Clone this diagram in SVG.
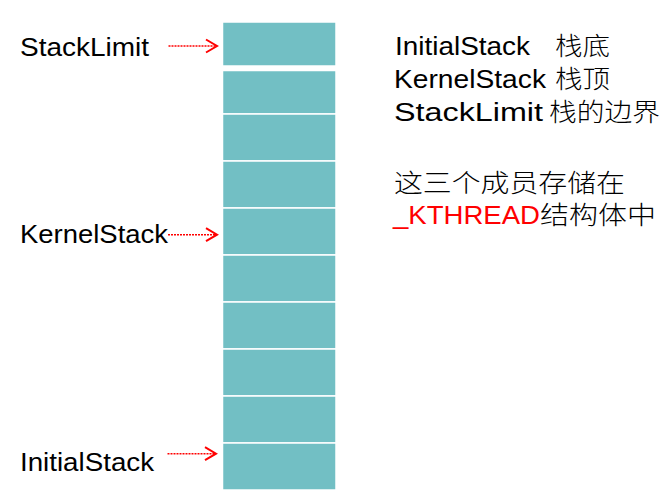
<svg xmlns="http://www.w3.org/2000/svg" width="663" height="497" viewBox="0 0 663 497">
<style>
.box{fill:#72BFC4;stroke:#FFFFFF;stroke-width:1.5}
.lat{font-family:"Liberation Sans",Arial,sans-serif;font-size:26.5px;fill:#000}
.cjk{font-family:"Liberation Sans","Noto Sans CJK SC",sans-serif;font-size:25px;font-weight:300;fill:#000}
.red{fill:#FF0000}
.ln{stroke:#FF0000;stroke-width:1.6;stroke-dasharray:2 1;fill:none}
.hd{stroke:#FF0000;stroke-width:2;fill:none;stroke-linejoin:miter}
</style>
<rect width="663" height="497" fill="#FFFFFF"/>
<g id="stack">
<rect id="slot1" class="box" x="222.5" y="22" width="113.5" height="44"/>
<rect id="slot2" class="box" x="222.5" y="70.5" width="113.5" height="43.5"/>
<rect id="slot3" class="box" x="222.5" y="114" width="113.5" height="47"/>
<rect id="slot4" class="box" x="222.5" y="161" width="113.5" height="47"/>
<rect id="slot5" class="box" x="222.5" y="208" width="113.5" height="47"/>
<rect id="slot6" class="box" x="222.5" y="255" width="113.5" height="47"/>
<rect id="slot7" class="box" x="222.5" y="302" width="113.5" height="47"/>
<rect id="slot8" class="box" x="222.5" y="349" width="113.5" height="47"/>
<rect id="slot9" class="box" x="222.5" y="396" width="113.5" height="47"/>
<rect id="slot10" class="box" x="222.5" y="443" width="113.5" height="47"/>
</g>
<g id="label-stacklimit"><text class="lat" x="20" y="56" textLength="129" lengthAdjust="spacingAndGlyphs">StackLimit</text></g>
<g id="label-kernelstack"><text class="lat" x="20" y="243" textLength="148" lengthAdjust="spacingAndGlyphs">KernelStack</text></g>
<g id="label-initialstack"><text class="lat" x="20" y="471" textLength="134" lengthAdjust="spacingAndGlyphs">InitialStack</text></g>
<g id="connectors">
<line class="ln" x1="168.5" y1="46" x2="216" y2="46"/>
<polyline class="hd" points="206,39.5 217,46 206,52.5"/>
<line class="ln" x1="168" y1="234.7" x2="216" y2="234.7"/>
<polyline class="hd" points="206,228.2 217,234.7 206,241.2"/>
<line class="ln" x1="167.5" y1="453.7" x2="215" y2="453.7"/>
<polyline class="hd" points="205,447.2 216,453.7 205,460.2"/>
</g>
<g id="notes">
<text class="lat" x="395" y="55" textLength="135" lengthAdjust="spacingAndGlyphs">InitialStack</text>
<text class="cjk" x="555" y="55" textLength="55" lengthAdjust="spacingAndGlyphs">栈底</text>
<text class="lat" x="394" y="88" textLength="152" lengthAdjust="spacingAndGlyphs">KernelStack</text>
<text class="cjk" x="555" y="88" textLength="55" lengthAdjust="spacingAndGlyphs">栈顶</text>
<text class="lat" x="394" y="121" textLength="149" lengthAdjust="spacingAndGlyphs">StackLimit</text>
<text class="cjk" x="549" y="121" textLength="111" lengthAdjust="spacingAndGlyphs">栈的边界</text>
<text class="cjk" x="394" y="192" textLength="231" lengthAdjust="spacingAndGlyphs">这三个成员存储在</text>
<text class="lat red" x="393" y="224" textLength="147" lengthAdjust="spacingAndGlyphs">_KTHREAD</text>
<text class="cjk" x="540" y="224" textLength="116" lengthAdjust="spacingAndGlyphs">结构体中</text>
</g>
</svg>
